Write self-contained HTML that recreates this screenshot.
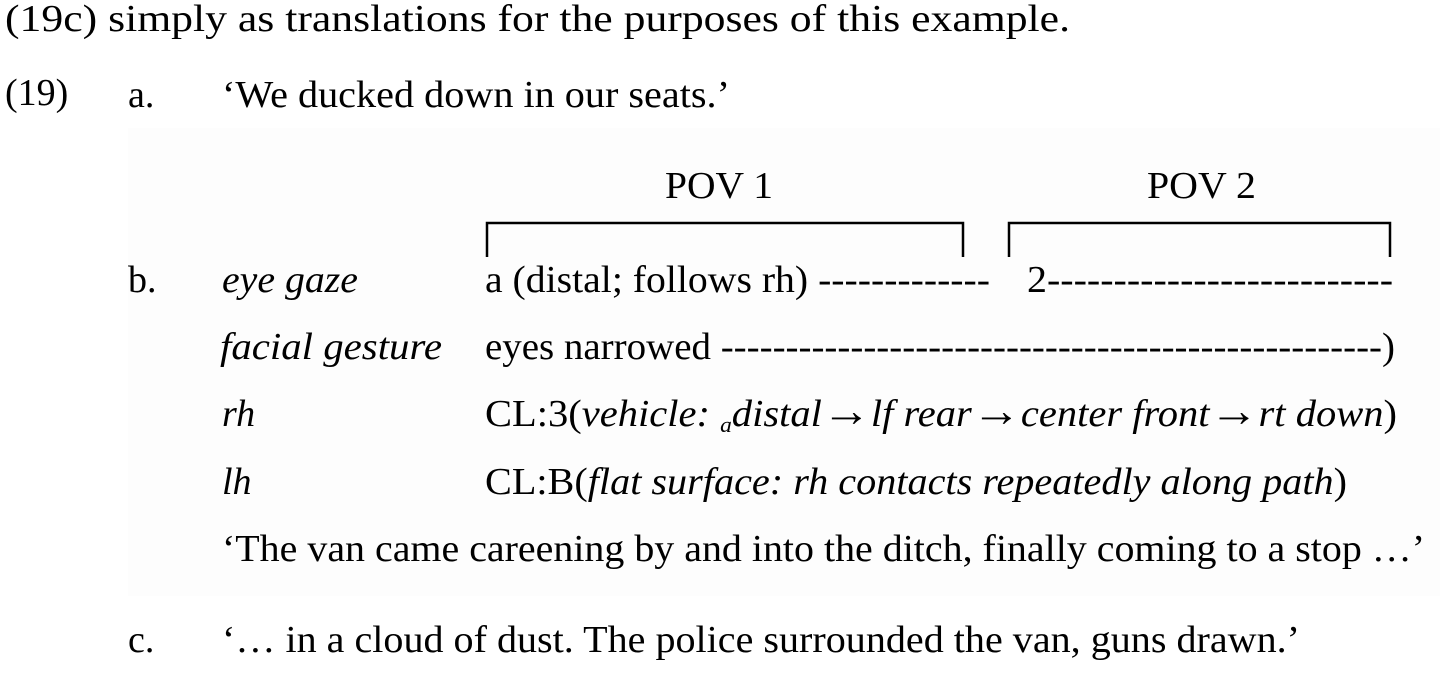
<!DOCTYPE html>
<html><head><meta charset="utf-8"><style>
html,body{margin:0;padding:0;background:#fff;}
svg{display:block;}
text{font-family:"Liberation Serif",serif;font-size:38px;fill:#000;}
.i{font-style:italic;}
</style></head><body>
<svg width="1456" height="699" viewBox="0 0 1456 699">
<rect x="128" y="128" width="1312" height="468" fill="#fdfdfd"/>
<text x="5" y="31" textLength="1065" lengthAdjust="spacingAndGlyphs">(19c) simply as translations for the purposes of this example.</text>
<text x="5" y="105">(19)</text>
<text x="128" y="107">a.</text>
<text x="222" y="107" textLength="508" lengthAdjust="spacingAndGlyphs">‘We ducked down in our seats.’</text>
<text x="665" y="198" textLength="108" lengthAdjust="spacingAndGlyphs">POV 1</text>
<text x="1147" y="198" textLength="109" lengthAdjust="spacingAndGlyphs">POV 2</text>
<path d="M487 257 V223 H963 V257" fill="none" stroke="#000" stroke-width="2.5"/>
<path d="M1009 257 V223 H1390 V257" fill="none" stroke="#000" stroke-width="2.5"/>
<text x="128" y="292">b.</text>
<text class="i" x="222" y="292" textLength="136" lengthAdjust="spacingAndGlyphs">eye gaze</text>
<text x="485" y="292" textLength="505" lengthAdjust="spacingAndGlyphs">a (distal; follows rh) -------------</text>
<text x="1027" y="292" textLength="366" lengthAdjust="spacingAndGlyphs">2--------------------------</text>
<text class="i" x="220" y="359" textLength="222" lengthAdjust="spacingAndGlyphs">facial gesture</text>
<text x="485" y="359" textLength="910" lengthAdjust="spacingAndGlyphs">eyes narrowed ---------------------------------------------------)</text>
<text class="i" x="222" y="426">rh</text>
<text x="485" y="426" textLength="912" lengthAdjust="spacingAndGlyphs">CL:3(<tspan class="i">vehicle: </tspan><tspan class="i" font-size="22" dy="6">a</tspan><tspan class="i" dy="-6">distal</tspan><tspan font-size="46">→</tspan><tspan class="i">lf rear</tspan><tspan font-size="46">→</tspan><tspan class="i">center front</tspan><tspan font-size="46">→</tspan><tspan class="i">rt down</tspan>)</text>
<text class="i" x="222" y="494">lh</text>
<text x="485" y="494" textLength="862" lengthAdjust="spacingAndGlyphs">CL:B(<tspan class="i">flat surface: rh contacts repeatedly along path</tspan>)</text>
<text x="222" y="561" textLength="1203" lengthAdjust="spacingAndGlyphs">‘The van came careening by and into the ditch, finally coming to a stop …’</text>
<text x="128" y="652">c.</text>
<text x="222" y="652" textLength="1078" lengthAdjust="spacingAndGlyphs">‘… in a cloud of dust. The police surrounded the van, guns drawn.’</text>
</svg>
</body></html>
